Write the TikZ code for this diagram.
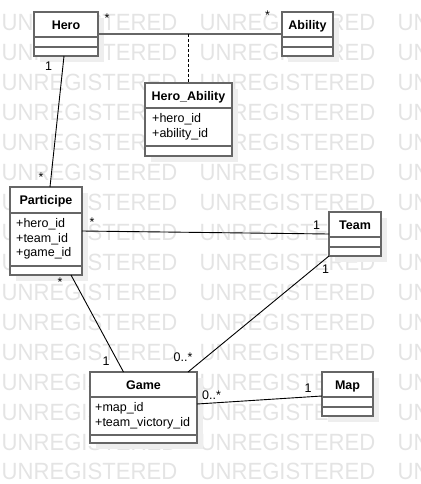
\documentclass[tikz,border=0pt]{standalone}
\usepackage{fontspec}
\setmainfont{Liberation Sans}
\usetikzlibrary{calc,shadows}

\definecolor{boxgray}{RGB}{102,102,102}
\definecolor{wmgray}{RGB}{228,228,228}
\definecolor{shade}{RGB}{238,238,238}

\begin{document}
\begin{tikzpicture}[x=1pt,y=-1pt,
    wmark/.style={anchor=base west,inner sep=0pt,text=wmgray,font=\fontsize{23.5}{24}\selectfont},
    cls/.style={draw=boxgray,line width=1.6pt,fill=white,anchor=north west,inner sep=0pt,outer sep=0pt,
        general shadow={fill=shade,shadow xshift=6pt,shadow yshift=-6pt}},
    sep/.style={boxgray,line width=1.6pt},
    cname/.style={anchor=base,inner sep=0pt,font=\fontsize{12.5}{15}\selectfont\bfseries},
    attr/.style={anchor=base west,inner sep=0pt,font=\fontsize{12.5}{15}\selectfont},
    mult/.style={anchor=base,inner sep=0pt,font=\fontsize{12.5}{15}\selectfont},
    link/.style={line width=0.9pt}]
        \useasboundingbox (0,0) rectangle (420,484);

        % watermark
        \foreach \r in {0,...,15} {
            \foreach \c in {0,1,2} {
                \node[wmark] (wm\r-\c) at (1.5+198*\c,31+29.93*\r) {\scalebox{.94}[1]{UNREGISTERED}};
            }
        }

        % classes
        \node[cls,minimum width=64,minimum height=44] (hero) at (34,12) {};
        \draw[sep] ($(hero.north west)+(0,25)$) -- ($(hero.north east)+(0,25)$);
        \draw[sep] ($(hero.north west)+(0,35)$) -- ($(hero.north east)+(0,35)$);
        \node[cname] (hero-name) at ($(hero.north)+(0,17.5)$) {Hero};

        \node[cls,minimum width=51,minimum height=44] (ability) at (282,12) {};
        \draw[sep] ($(ability.north west)+(0,25)$) -- ($(ability.north east)+(0,25)$);
        \draw[sep] ($(ability.north west)+(0,35)$) -- ($(ability.north east)+(0,35)$);
        \node[cname] (ability-name) at ($(ability.north)+(0,17.5)$) {Ability};

        \node[cls,minimum width=87,minimum height=73] (heroab) at (145,83) {};
        \draw[sep] ($(heroab.north west)+(0,25)$) -- ($(heroab.north east)+(0,25)$);
        \draw[sep] ($(heroab.north west)+(0,63)$) -- ($(heroab.north east)+(0,63)$);
        \node[cname] (heroab-name) at ($(heroab.north)+(0,17.5)$) {Hero\_Ability};
        \foreach \a [count=\i] in {+hero\_id,+ability\_id}
            \node[attr] (heroab-a\i) at ($(heroab.north west)+(7,25+14.5*\i)$) {\a};

        \node[cls,minimum width=72,minimum height=88] (part) at (10,187) {};
        \draw[sep] ($(part.north west)+(0,26)$) -- ($(part.north east)+(0,26)$);
        \draw[sep] ($(part.north west)+(0,79)$) -- ($(part.north east)+(0,79)$);
        \node[cname] (part-name) at ($(part.north)+(0,17.8)$) {Participe};
        \foreach \a [count=\i] in {+hero\_id,+team\_id,+game\_id}
            \node[attr] (part-a\i) at ($(part.north west)+(6,26+14.5*\i)$) {\a};

        \node[cls,minimum width=52,minimum height=44] (team) at (329,212) {};
        \draw[sep] ($(team.north west)+(0,25)$) -- ($(team.north east)+(0,25)$);
        \draw[sep] ($(team.north west)+(0,35)$) -- ($(team.north east)+(0,35)$);
        \node[cname] (team-name) at ($(team.north)+(0,17.5)$) {Team};

        \node[cls,minimum width=107,minimum height=71] (game) at (90,372) {};
        \draw[sep] ($(game.north west)+(0,25)$) -- ($(game.north east)+(0,25)$);
        \draw[sep] ($(game.north west)+(0,63)$) -- ($(game.north east)+(0,63)$);
        \node[cname] (game-name) at ($(game.north)+(0,17.3)$) {Game};
        \foreach \a [count=\i] in {+map\_id,+team\_victory\_id}
            \node[attr] (game-a\i) at ($(game.north west)+(5,25+14.5*\i)$) {\a};

        \node[cls,minimum width=51,minimum height=44] (map) at (322,372) {};
        \draw[sep] ($(map.north west)+(0,25)$) -- ($(map.north east)+(0,25)$);
        \draw[sep] ($(map.north west)+(0,35)$) -- ($(map.north east)+(0,35)$);
        \node[cname] (map-name) at ($(map.north)+(0,17.5)$) {Map};

        %% links
        \coordinate (abjoin) at (heroab.north |- hero.east);
        \draw[sep] (hero.east) -- (ability.west);
        \draw[link,dash pattern=on 3pt off 2pt] (abjoin) -- (heroab.north);
        \draw[link] ([xshift=-2pt]hero.south) -- ([xshift=4pt]part.north);
        \draw[link] (part.east) -- (team.west);
        \draw[link] ([xshift=25pt]part.south) -- ([xshift=-20pt]game.north);
        \draw[link] (team.south west) -- ([xshift=-9pt]game.north east);
        \draw[link] ([yshift=3.5pt]game.east) -- ([yshift=-2pt]map.west);

        % labelleds
        \node[mult] (m1) at (48.5,71) {1};
        \node[mult] (m2) at (41,181) {*};
        \node[mult] (m3) at (107,22.5) {*};
        \node[mult] (m4) at (267.5,19.5) {*};
        \node[mult] (m5) at (92,226.5) {*};
        \node[mult] (m6) at (316.5,229) {1};
        \node[mult] (m7) at (325.5,273) {1};
        \node[mult] (m8) at (183,361) {0..*};
        \node[mult] (m9) at (60,286.5) {*};
        \node[mult] (m10) at (106,365) {1};
        \node[mult] (m11) at (211.5,399) {0..*};
        \node[mult] (m12) at (308,392) {1};
\end{tikzpicture}
\end{document}
